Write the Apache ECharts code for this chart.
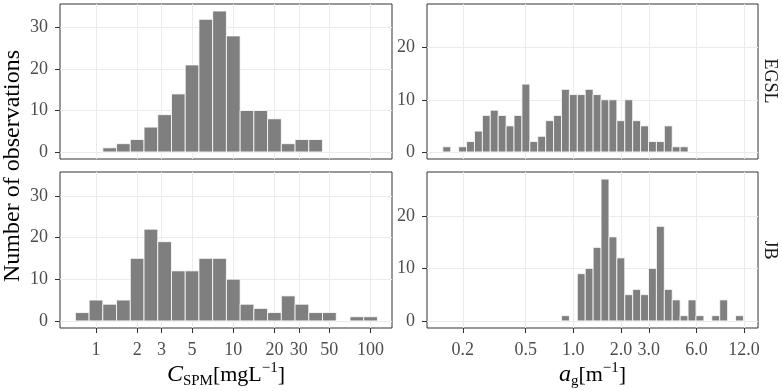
<!DOCTYPE html>
<html>
  <head>
    <title></title>
    <meta charset="UTF-8" />
    <script src="https://cdn.jsdelivr.net/npm/echarts@6/dist/echarts.min.js"></script>
    <style>
      body { margin: 0; background: #fff; }
    </style>
  </head>
  <body>
    <div id="main"></div>
    <script>
      const width = 782;
      const height = 391;
      const main = document.getElementById('main');
      main.style.width = `${width}px`;
      main.style.height = `${height}px`;

      // histogram bins, centres in log10 units
      const spmBinW = 0.1;
      const spmEgslBins = [0.1, 0.2, 0.3, 0.4, 0.5, 0.6, 0.7, 0.8, 0.9, 1.0, 1.1, 1.2, 1.3, 1.4, 1.5, 1.6];
      const spmEgslCounts = [1, 2, 3, 6, 9, 14, 21, 32, 34, 28, 10, 10, 8, 2, 3, 3];
      const spmJbBins = [-0.1, 0.0, 0.1, 0.2, 0.3, 0.4, 0.5, 0.6, 0.7, 0.8, 0.9, 1.0, 1.1, 1.2, 1.3, 1.4, 1.5, 1.6, 1.7, 1.8, 1.9, 2.0];
      const spmJbCounts = [2, 5, 4, 5, 15, 22, 19, 12, 12, 15, 15, 10, 4, 3, 2, 6, 4, 2, 2, 0, 1, 1];

      const agBinW = 0.05;
      const agEgslBins = [-0.80, -0.75, -0.70, -0.65, -0.60, -0.55, -0.50, -0.45, -0.40, -0.35, -0.30, -0.25, -0.20, -0.15, -0.10, -0.05,
        0.00, 0.05, 0.10, 0.15, 0.20, 0.25, 0.30, 0.35, 0.40, 0.45, 0.50, 0.55, 0.60, 0.65, 0.70];
      const agEgslCounts = [1, 0, 1, 2, 4, 7, 8, 7, 5, 7, 13, 2, 3, 6, 7, 12, 11, 11, 12, 11, 10, 10, 6, 10, 6, 5, 2, 2, 5, 1, 1];
      const agJbBins = [-0.05, 0.00, 0.05, 0.10, 0.15, 0.20, 0.25, 0.30, 0.35, 0.40, 0.45, 0.50, 0.55, 0.60, 0.65, 0.70, 0.75, 0.80,
        0.85, 0.90, 0.95, 1.00, 1.05];
      const agJbCounts = [1, 0, 9, 10, 14, 27, 16, 12, 5, 6, 5, 10, 18, 6, 4, 1, 4, 1, 0, 1, 4, 0, 1];

      const spmTicks = [1, 2, 3, 5, 10, 20, 30, 50, 100];
      const spmTickLabels = ['1', '2', '3', '5', '10', '20', '30', '50', '100'];
      const agTicks = [0.2, 0.5, 1, 2, 3, 6, 12];
      const agTickLabels = ['0.2', '0.5', '1.0', '2.0', '3.0', '6.0', '12.0'];
      const leftCountTicks = [0, 10, 20, 30];
      const rightCountTicks = [0, 10, 20];

      const font = 'Liberation Serif';
      const axisGrey = '#333333';
      const gridGrey = '#ebebeb';
      const textGrey = '#4d4d4d';

      const myChart = echarts.init(main);

      const grids = [
        { left: 60, top: 4, width: 332, height: 155 },
        { left: 427, top: 4, width: 331, height: 155 },
        { left: 60, top: 172, width: 332, height: 156 },
        { left: 427, top: 172, width: 331, height: 156 }
      ].map(g => Object.assign(g, {
        show: true, borderColor: axisGrey, borderWidth: 1, backgroundColor: '#fff',
        containLabel: false, outerBoundsMode: 'none'
      }));

      function findLabel(ticks, labels) {
        const logs = ticks.map(Math.log10);
        return v => {
          const i = logs.findIndex(t => Math.abs(t - v) < 1e-6);
          return i < 0 ? '' : labels[i];
        };
      }

      const richName = {
        it: { fontFamily: font, fontSize: 24, fontStyle: 'italic', color: '#000', lineHeight: 28 },
        sub: { fontFamily: font, fontSize: 15, color: '#000', lineHeight: 13, verticalAlign: 'bottom' },
        sup: { fontFamily: font, fontSize: 15, color: '#000', lineHeight: 15, verticalAlign: 'top' },
        n: { fontFamily: font, fontSize: 22, color: '#000', lineHeight: 28 }
      };

      function xAxis(gridIndex, ticks, labels, range, bottom, name) {
        const logs = ticks.map(Math.log10);
        return {
          type: 'value', gridIndex, min: range[0], max: range[1],
          axisLine: { show: false, onZero: false },
          axisTick: { show: bottom, customValues: logs, length: 5, lineStyle: { color: axisGrey } },
          axisLabel: {
            show: bottom, customValues: logs, margin: 13, formatter: findLabel(ticks, labels),
            fontFamily: font, fontSize: 18, color: textGrey
          },
          splitLine: { show: true, lineStyle: { color: gridGrey, width: 1 } },
          name: bottom ? name : '',
          nameLocation: 'middle',
          nameGap: 33,
          nameTextStyle: { fontFamily: font, fontSize: 22, color: '#000', lineHeight: 28, rich: richName }
        };
      }

      function yAxis(gridIndex, ticks, range) {
        return {
          type: 'value', gridIndex, min: range[0], max: range[1],
          axisLine: { show: false, onZero: false },
          axisTick: { show: true, customValues: ticks, length: 5, lineStyle: { color: axisGrey } },
          axisLabel: { customValues: ticks, margin: 12, fontFamily: font, fontSize: 18, color: textGrey },
          splitLine: { show: true, lineStyle: { color: gridGrey, width: 1 } }
        };
      }

      const spmRange = [-0.262, 2.156];
      const agRange = [-0.925, 1.167];
      const leftY = [-1.7, 35.7];
      const rightY = [-1.35, 28.35];

      function histSeries(index, bins, counts, binW) {
        return {
          type: 'custom',
          xAxisIndex: index,
          yAxisIndex: index,
          data: bins.map((b, i) => [b, counts[i]]),
          renderItem: (params, api) => {
            const x = api.value(0);
            const n = api.value(1);
            if (!n) return null;
            const a = api.coord([x - binW / 2, n]);
            const b = api.coord([x + binW / 2, 0]);
            return {
              type: 'rect',
              shape: { x: a[0], y: a[1], width: b[0] - a[0], height: b[1] - a[1] },
              style: { fill: '#7f7f7f', stroke: '#ffffff', lineWidth: 0.8 }
            };
          }
        };
      }

      const option = {
        animation: false,
        textStyle: { fontFamily: font },
        grid: grids,
        xAxis: [
          xAxis(0, spmTicks, spmTickLabels, spmRange, false, ''),
          xAxis(1, agTicks, agTickLabels, agRange, false, ''),
          xAxis(2, spmTicks, spmTickLabels, spmRange, true, '{it|C}{sub|SPM}{n|[mgL}{sup|−1}{n|]}'),
          xAxis(3, agTicks, agTickLabels, agRange, true, '{it|a}{sub|g}{n|[m}{sup|−1}{n|]}')
        ],
        yAxis: [
          yAxis(0, leftCountTicks, leftY),
          yAxis(1, rightCountTicks, rightY),
          yAxis(2, leftCountTicks, leftY),
          yAxis(3, rightCountTicks, rightY)
        ],
        series: [
          histSeries(0, spmEgslBins, spmEgslCounts, spmBinW),
          histSeries(1, agEgslBins, agEgslCounts, agBinW),
          histSeries(2, spmJbBins, spmJbCounts, spmBinW),
          histSeries(3, agJbBins, agJbCounts, agBinW)
        ],
        graphic: [
          {
            type: 'text', x: 13, y: 166, rotation: Math.PI / 2,
            style: { text: 'Number of observations', font: `24px "${font}"`, fill: '#000', align: 'center', verticalAlign: 'middle' }
          },
          {
            type: 'text', x: 770, y: 81, rotation: -Math.PI / 2,
            style: { text: 'EGSL', font: `18px "${font}"`, fill: '#1a1a1a', align: 'center', verticalAlign: 'middle' }
          },
          {
            type: 'text', x: 770, y: 250, rotation: -Math.PI / 2,
            style: { text: 'JB', font: `18px "${font}"`, fill: '#1a1a1a', align: 'center', verticalAlign: 'middle' }
          }
        ]
      };
      myChart.setOption(option);
    </script>
  </body>
</html>
